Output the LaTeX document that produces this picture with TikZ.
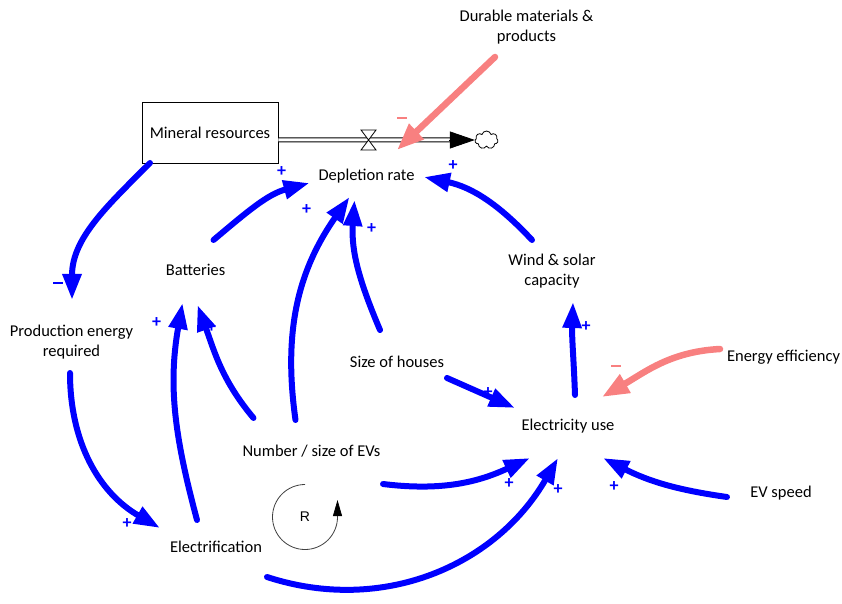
\documentclass[tikz,border=0pt]{standalone}
\usepackage{fontspec}
\setmainfont{Carlito}
\newfontfamily\loopfont{Liberation Sans}
\usetikzlibrary{arrows.meta,calc,shapes.symbols}
\definecolor{linkblue}{RGB}{0,0,255}
\definecolor{linkpink}{RGB}{248,128,128}
\newcommand{\negsign}{\rule[0pt]{10pt}{2.2pt}}

\begin{document}
\begin{tikzpicture}[
        x=1pt, y=1pt,
        var/.style={align=center, inner sep=0pt, font=\fontsize{16.5}{20}\selectfont},
        stock/.style={rectangle, draw=black, line width=0.8pt, minimum width=136pt, minimum height=61pt, font=\fontsize{16.5}{20}\selectfont},
        link/.style={draw=linkblue, line width=6pt, line cap=round, -{Triangle[length=26pt,width=18pt]}},
        brake/.style={draw=linkpink, line width=6.5pt, line cap=round, -{Triangle[length=27pt,width=20pt]}},
        sgn/.style={text=linkblue, font=\bfseries\fontsize{18}{18}\selectfont, inner sep=0pt},
        nsgn/.style={text=linkpink, inner sep=0pt},
        pipe/.style={draw=black, double, double distance=3pt, line width=1pt}
    ]
    \useasboundingbox (0,0) rectangle (842,603);

    % Stock and flow
    \node[stock] (mineral) at (210,470.5) {Mineral resources};
    \node[cloud, draw, cloud puffs=7, line width=0.8pt, minimum width=23pt, minimum height=18pt, inner sep=0pt] (sink) at (486.5,463) {};
    \coordinate (valve) at (368.5,463);
    \draw[pipe] (mineral.east |- valve) -- ($(sink.west)+(-20,0)$);
    \draw[line width=0.8pt, -{Triangle[length=25pt,width=17pt]}] ($(sink.west)+(-26,0)$) -- (sink.west);
    \draw[fill=white, line width=0.8pt] ($(valve)+(-7.5,10)$) -- ++(15,0) -- ++(-15,-20) -- ++(15,0) -- cycle;

    % Variables
    \node[var] (depl) at (366.5,427) {Depletion rate};
    \node[var] (durable) at (526.5,576) {Durable materials \&\\products};
    \node[var] (batt) at (195.5,333) {Batteries};
    \node[var] (prod) at (71.5,260.5) {Production energy\\required};
    \node[var] (wind) at (552,331.5) {Wind \& solar\\capacity};
    \node[var] (houses) at (397,241) {Size of houses};
    \node[var] (elec) at (568,177) {Electricity use};
    \node[var] (eff) at (783.5,246) {Energy efficiency};
    \node[var] (evs) at (311.5,152) {Number / size of EVs};
    \node[var] (speed) at (781,110) {EV speed};
    \node[var] (electr) at (216,56) {Electrification};

    % Loop marker
    \node[font=\loopfont\fontsize{14}{14}\selectfont] (loopR) at (305,86) {R};
    \draw[draw=black!75, line width=0.8pt, -{Triangle[length=16pt,width=9pt,black]}] ($(loopR)+(0,32.5)$) arc[start angle=90, end angle=360, radius=32.5] -- ++(0,17);

    % Causal links
    \draw[link] ($(mineral)+(-60,-30.5)$) to[out=-135, in=90] node[sgn, pos=1, xshift=-14pt, yshift=17pt] {\negsign} ($(prod)+(0.5,42.5)$);
    \draw[link] ($(prod)+(-1.5,-30.5)$) to[out=-90, in=150] node[sgn, pos=1, xshift=-33pt, yshift=4pt] {+} ($(electr)+(-56,19)$);
    \draw[link] ($(electr)+(-19,27)$) to[out=105, in=-100] node[sgn, pos=1, xshift=-26pt, yshift=-20pt] {+} ($(batt)+(-13,-33)$);
    \draw[link] ($(evs)+(-58,33)$) to[out=130, in=-70] node[sgn, pos=1, xshift=14pt, yshift=-23pt] {+} ($(batt)+(2,-35)$);
    \draw[link] ($(batt)+(18,30)$) to[out=40, in=-165] node[sgn, pos=1, xshift=-28pt, yshift=11pt] {+} ($(depl)+(-57,-7)$);
    \draw[link] ($(evs)+(-16,31)$) to[out=98, in=-125] node[sgn, pos=1, xshift=-43pt, yshift=-13pt] {+} ($(depl)+(-17,-21)$);
    \draw[link] ($(houses)+(-17,32)$) to[out=113, in=-94] node[sgn, pos=1, xshift=17pt, yshift=-29pt] {+} ($(depl)+(-12,-24)$);
    \draw[link] ($(wind)+(-20,31.5)$) to[out=133, in=-12] node[sgn, pos=1, xshift=29pt, yshift=11pt] {+} ($(depl)+(57.5,-1)$);
    \draw[link] ($(elec)+(7,31)$) to[out=92, in=-92] node[sgn, pos=1, xshift=13pt, yshift=-25pt] {+} ($(wind)+(21,-30.5)$);
    \draw[link] ($(houses)+(50,-16)$) -- node[sgn, pos=1, xshift=-27pt, yshift=15pt] {+} ($(elec)+(-53,18)$);
    \draw[link] ($(evs)+(71.5,-33)$) to[out=-7, in=-155] node[sgn, pos=1, xshift=-21pt, yshift=-26pt] {+} ($(elec)+(-38,-32)$);
    \draw[link] ($(electr)+(51,-30)$) to[out=-18, in=-120] node[sgn, pos=1, xshift=0pt, yshift=-32pt] {+} ($(elec)+(-10,-32)$);
    \draw[link] ($(speed)+(-54,-4)$) to[out=172, in=-27] node[sgn, pos=1, xshift=11pt, yshift=-29pt] {+} ($(elec)+(35,-32)$);
    \draw[brake] ($(eff)+(-63.5,8)$) to[out=183, in=30] node[nsgn, pos=1, xshift=14pt, yshift=31pt] {\negsign} ($(elec)+(34,29)$);
    \draw[brake] ($(durable)+(-31.5,-30)$) -- node[nsgn, pos=1, xshift=5pt, yshift=32pt] {\negsign} ($(valve)+(28.5,-10)$);

\end{tikzpicture}
\end{document}
